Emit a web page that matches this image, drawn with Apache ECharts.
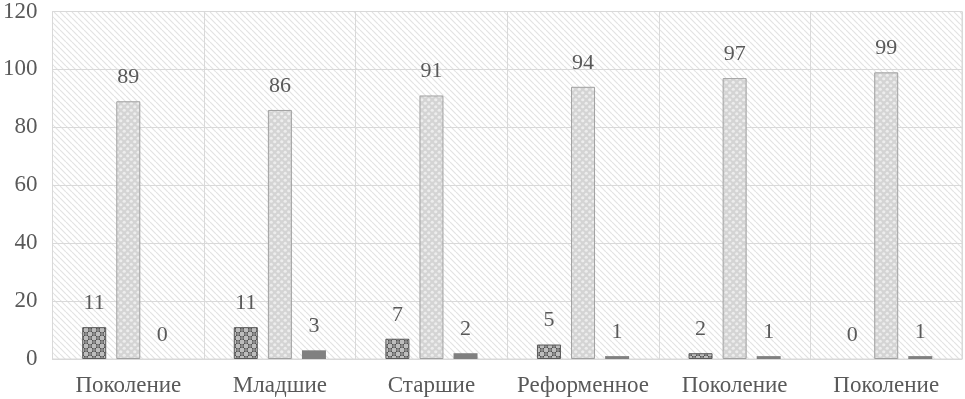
<!DOCTYPE html>
<html>
<head>
<meta charset="utf-8">
<script src="https://cdn.jsdelivr.net/npm/echarts@6/dist/echarts.min.js"></script>
<style>
  html, body { margin: 0; padding: 0; background: #fff; }
  #chart { width: 965px; height: 399px; }
</style>
</head>
<body>
<div id="chart"></div>
<script>
const categories = ['Поколение', 'Младшие', 'Старшие', 'Реформенное', 'Поколение', 'Поколение'];
const seriesA = [11, 11, 7, 5, 2, 0];
const seriesB = [89, 86, 91, 94, 97, 99];
const seriesC = [0, 3, 2, 1, 1, 1];
const yTicks = { min: 0, max: 120, interval: 20 };

// diagonal hatch for plot background
function hatch() {
  const c = document.createElement('canvas');
  c.width = 6; c.height = 6;
  const g = c.getContext('2d');
  g.fillStyle = '#fff';
  g.fillRect(0, 0, 6, 6);
  g.strokeStyle = '#e3e3e3';
  g.lineWidth = 1.2;
  [-6, 0, 6].forEach(x => {
    g.beginPath();
    g.moveTo(x, 0);
    g.lineTo(x + 6, 6);
    g.stroke();
  });
  return c;
}

// dark checker with gray circles
function darkDots() {
  const c = document.createElement('canvas');
  c.width = 8; c.height = 8;
  const g = c.getContext('2d');
  g.fillStyle = '#bdbdbd';
  g.fillRect(0, 0, 8, 8);
  g.fillStyle = '#3f3f3f';
  g.fillRect(0, 0, 4, 4);
  g.fillRect(4, 4, 4, 4);
  g.fillStyle = '#8c8c8c';
  [[2, 2], [6, 6]].forEach(p => {
    g.beginPath();
    g.arc(p[0], p[1], 1.9, 0, Math.PI * 2);
    g.fill();
  });
  return c;
}

// light gray circles
function lightDots() {
  const c = document.createElement('canvas');
  c.width = 7; c.height = 7;
  const g = c.getContext('2d');
  g.fillStyle = '#d4d4d4';
  g.fillRect(0, 0, 7, 7);
  g.fillStyle = '#ededed';
  [[1.75, 1.75], [5.25, 5.25]].forEach(p => {
    g.beginPath();
    g.arc(p[0], p[1], 1.6, 0, Math.PI * 2);
    g.fill();
  });
  return c;
}

// zero values get a label but no visible bar outline
function items(values) {
  return values.map(v => v === 0 ? { value: v, itemStyle: { borderWidth: 0, opacity: 0 } } : v);
}

const font = 'Liberation Serif';
const labelStyle = {
  show: true,
  position: 'top',
  distance: 13,
  color: '#595959',
  fontFamily: font,
  fontSize: 22,
  opacity: 1
};

const chart = echarts.init(document.getElementById('chart'));
chart.setOption({
  animation: false,
  grid: {
    left: 52, right: 3, top: 8, bottom: 40,
    show: true,
    borderColor: '#d9d9d9',
    borderWidth: 1,
    backgroundColor: { image: hatch(), repeat: 'repeat' }
  },
  xAxis: {
    type: 'category',
    data: categories,
    axisLine: { lineStyle: { color: '#d9d9d9' } },
    axisTick: { show: false },
    splitLine: { show: true, lineStyle: { color: '#d9d9d9' } },
    axisLabel: { color: '#595959', fontFamily: font, fontSize: 23, margin: 15, interval: 0 }
  },
  yAxis: {
    type: 'value',
    min: yTicks.min, max: yTicks.max, interval: yTicks.interval,
    axisLine: { show: false },
    axisTick: { show: false },
    splitLine: { lineStyle: { color: '#d9d9d9' } },
    axisLabel: { color: '#595959', fontFamily: font, fontSize: 23, margin: 15 }
  },
  series: [
    {
      name: 'A', type: 'bar', data: items(seriesA), barWidth: 24, barGap: '42%',
      itemStyle: { color: { image: darkDots(), repeat: 'repeat' }, borderColor: '#5a5a5a', borderWidth: 1 },
      label: labelStyle
    },
    {
      name: 'B', type: 'bar', data: items(seriesB), barWidth: 24, barGap: '42%',
      itemStyle: { color: { image: lightDots(), repeat: 'repeat' }, borderColor: '#a0a0a0', borderWidth: 1 },
      label: labelStyle
    },
    {
      name: 'C', type: 'bar', data: items(seriesC), barWidth: 24, barGap: '42%',
      itemStyle: { color: '#808080' },
      label: labelStyle
    }
  ]
});
</script>
</body>
</html>
